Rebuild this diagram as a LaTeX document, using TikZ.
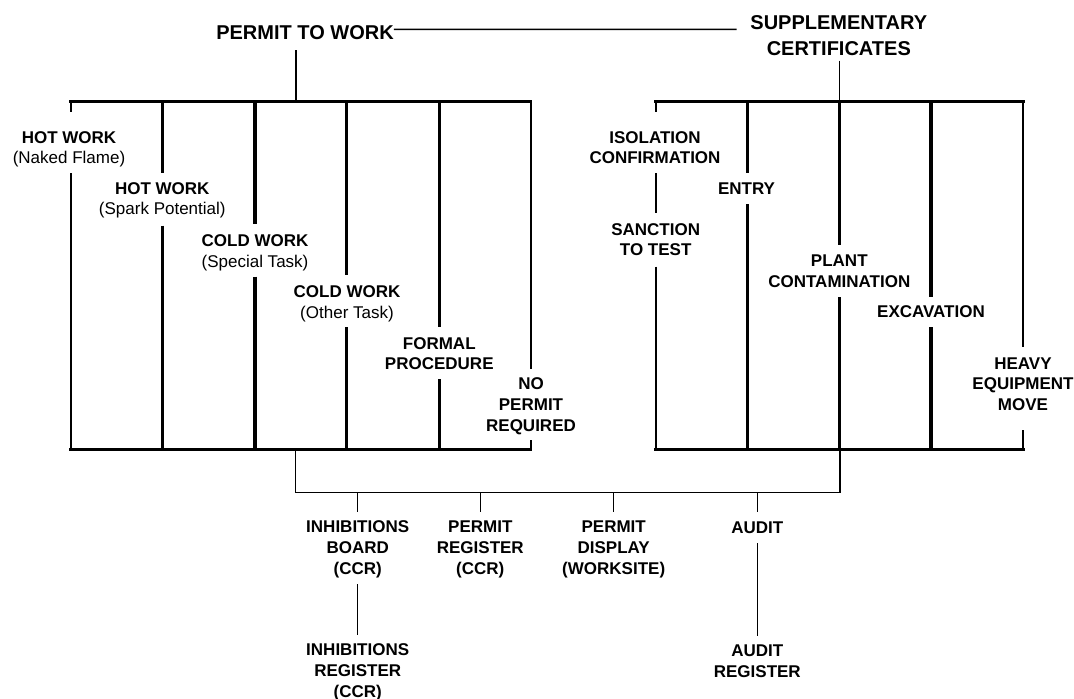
\documentclass[tikz,border=0pt]{standalone}
\usepackage{fontspec}
\setmainfont{Liberation Sans}
\begin{document}
\begin{tikzpicture}[x=1pt,y=-1pt,
  lbl/.style={font=\fontsize{17}{20.7}\selectfont\bfseries, align=center, inner sep=0pt, anchor=north, text=black},
  ttl/.style={font=\fontsize{20}{25.3}\selectfont\bfseries, align=center, inner sep=0pt, anchor=north, text=black},
  frame/.style={line width=3pt, line cap=rect},
  side/.style={line width=2.2pt},
  divider/.style={line width=3.4pt},
  conn/.style={line width=1.4pt}]
\useasboundingbox (0,0) rectangle (1074,699);
\newcommand{\pn}[1]{{\mdseries #1}}

% titles
\node[ttl] (ptw) at (305,25.8) {PERMIT TO WORK};
\node[ttl] (sc) at (838.8,15.8) {SUPPLEMENTARY\\CERTIFICATES};

% left box labels
\node[lbl] (hw1) at (69,131.1) {HOT WORK\\\pn{(Naked Flame)}};
\node[lbl] (hw2) at (162.3,182.2) {HOT WORK\\\pn{(Spark Potential)}};
\node[lbl] (cw1) at (255,234.6) {COLD WORK\\\pn{(Special Task)}};
\node[lbl] (cw2) at (347,285.6) {COLD WORK\\\pn{(Other Task)}};
\node[lbl] (fp) at (439.3,337.2) {FORMAL\\PROCEDURE};
\node[lbl] (np) at (531,377.9) {NO\\PERMIT\\REQUIRED};

% right box labels
\node[lbl] (ic) at (655,131.2) {ISOLATION\\CONFIRMATION};
\node[lbl] (en) at (746.5,182.2) {ENTRY};
\node[lbl] (st) at (655.7,223.2) {SANCTION\\TO TEST};
\node[lbl] (pc) at (839.3,254.6) {PLANT\\CONTAMINATION};
\node[lbl] (ex) at (931,305.6) {EXCAVATION};
\node[lbl] (he) at (1023,357.2) {HEAVY\\EQUIPMENT\\MOVE};

% bottom labels
\node[lbl] (ib) at (357.7,520.9) {INHIBITIONS\\BOARD\\(CCR)};
\node[lbl] (pr) at (480.3,520.9) {PERMIT\\REGISTER\\(CCR)};
\node[lbl] (pd) at (613.7,520.9) {PERMIT\\DISPLAY\\(WORKSITE)};
\node[lbl] (au) at (757.3,521.2) {AUDIT};
\node[lbl] (ir) at (357.7,643.6) {INHIBITIONS\\REGISTER\\(CCR)};
\node[lbl] (ar) at (757.3,644.6) {AUDIT\\REGISTER};

% key coordinates
\coordinate (LT) at (296,101.7);
\coordinate (RT) at (839.3,101.7);
\coordinate (LB) at (295.7,449.3);
\coordinate (RB) at (839.8,449.3);
\coordinate (busL) at (295.7,492.3);
\coordinate (busR) at (839.8,492.3);
\coordinate (lineEnd) at (736.7,29.3);

% left box frame
\draw[frame] (70.7,101.7) -- (530.7,101.7);
\draw[frame] (70.7,449.3) -- (530.7,449.3);
\draw[side] (70.7,101.7) -- (70.7,111.7) (70.7,173.3) -- (70.7,449.3);
\draw[divider] (162.3,101.7) -- (162.3,172.7) (162.3,225.7) -- (162.3,449.3);
\draw[divider] (255,101.7) -- (255,224) (255,276.7) -- (255,449.3);
\draw[divider] (346.7,101.7) -- (346.7,275) (346.7,327.3) -- (346.7,449.3);
\draw[divider] (439.3,101.7) -- (439.3,326.7) (439.3,379.3) -- (439.3,449.3);
\draw[side] (530.7,101.7) -- (530.7,369) (530.7,440) -- (530.7,449.3);

% right box frame
\draw[frame] (655.7,101.7) -- (1023,101.7);
\draw[frame] (655.7,449.3) -- (1023,449.3);
\draw[side] (655.7,101.7) -- (655.7,111.7) (655.7,173.3) -- (655.7,213.3) (655.7,266.7) -- (655.7,449.3);
\draw[divider] (747.3,101.7) -- (747.3,172.7) (747.3,204) -- (747.3,449.3);
\draw[divider] (839.3,101.7) -- (839.3,245) (839.3,297.3) -- (839.3,449.3);
\draw[divider] (931,101.7) -- (931,296.7) (931,327.3) -- (931,449.3);
\draw[side] (1023,101.7) -- (1023,347.3) (1023,430) -- (1023,449.3);

% title connectors
\draw[conn] ([yshift=3.7pt]ptw.east) -- (lineEnd);
\draw[conn] (LT |- 0,50) -- (LT);
\draw[conn] (RT |- 0,60.7) -- (RT);

% bus
\draw[conn] (LB) -- (busL) -- (busR) -- (RB);
\draw[conn] (ib.north |- busL) -- ([yshift=9.2pt]ib.north);
\draw[conn] (pr.north |- busL) -- ([yshift=9.2pt]pr.north);
\draw[conn] (pd.north |- busL) -- ([yshift=9.2pt]pd.north);
\draw[conn] (au.north |- busL) -- ([yshift=9.5pt]au.north);
\draw[conn] (ib.south |- 0,584) -- (ir.north |- 0,634.5);
\draw[conn] (au.south |- 0,543.3) -- (ar.north |- 0,635.7);
\end{tikzpicture}
\end{document}
